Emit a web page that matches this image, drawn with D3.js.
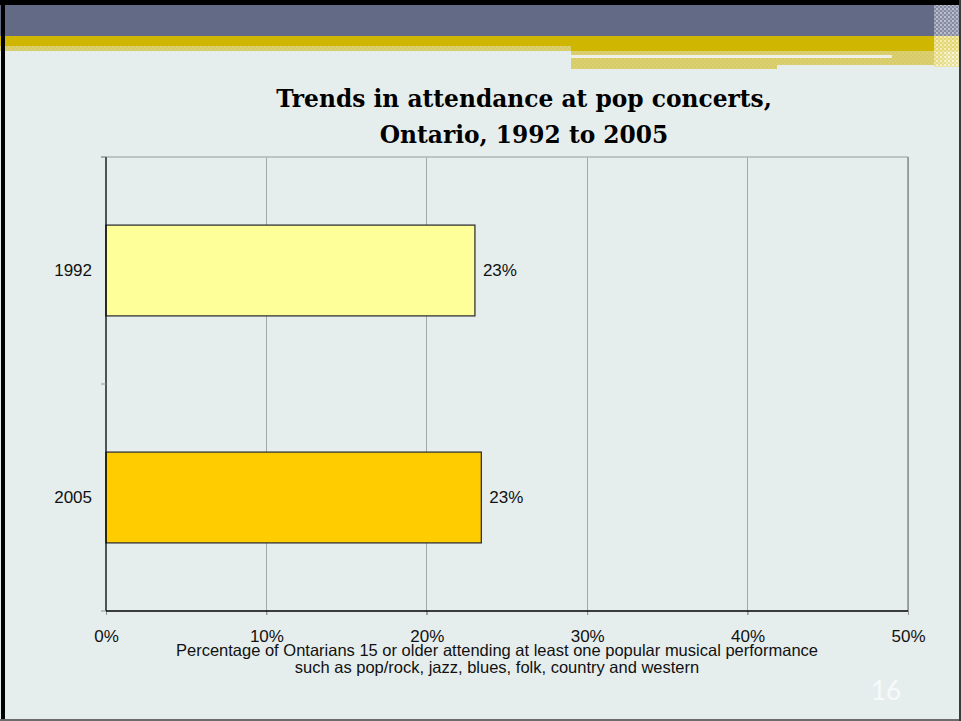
<!DOCTYPE html>
<html>
<head>
<meta charset="utf-8">
<script src="https://cdn.jsdelivr.net/npm/d3@7"></script>
<style>
  html, body { margin: 0; padding: 0; background: #e6eeed; }
  svg { display: block; }
</style>
</head>
<body>
<svg id="slide" width="961" height="721"></svg>
<script>
// Attendance data
const years = ["1992", "2005"];
const shares = [0.230, 0.234];
const barColors = ["#ffff99", "#ffcc00"];
const xTicks = [0, 0.1, 0.2, 0.3, 0.4, 0.5];
const titleLines = ["Trends in attendance at pop concerts,", "Ontario, 1992 to 2005"];
const axisTitleLines = [
  "Percentage of Ontarians 15 or older attending at least one popular musical performance",
  "such as pop/rock, jazz, blues, folk, country and western"
];
const pageNumber = "16";

const svg = d3.select("#slide");
const W = 961, H = 721;
const sans = "Liberation Sans, Arial, sans-serif";

svg.append("rect").attr("x", 0).attr("y", 0).attr("width", W).attr("height", H).attr("fill", "#e6eeed");

// Header band patterns
const defs = svg.append("defs");
function checker(id, base, a, b) {
  const p = defs.append("pattern").attr("id", id).attr("width", 4).attr("height", 4)
    .attr("patternUnits", "userSpaceOnUse");
  p.append("rect").attr("width", 4).attr("height", 4).attr("fill", base);
  p.append("rect").attr("width", 2).attr("height", 2).attr("fill", a);
  p.append("rect").attr("x", 2).attr("y", 2).attr("width", 2).attr("height", 2).attr("fill", b);
}
checker("lightGold", "#dbd073", "#d7cb66", "#d7cb66");
checker("checkGrey", "#9096ac", "#dcdee5", "#c0c3d0");
checker("checkGold", "#e8dc86", "#faf6d8", "#f1e9b0");

// Header bands
svg.append("rect").attr("x", 0).attr("y", 5).attr("width", W).attr("height", 31).attr("fill", "#636a86");
svg.append("rect").attr("x", 0).attr("y", 36).attr("width", W).attr("height", 10).attr("fill", "#cfb701");
svg.append("rect").attr("x", 0).attr("y", 46).attr("width", 571).attr("height", 5).attr("fill", "url(#lightGold)");
svg.append("rect").attr("x", 571).attr("y", 46).attr("width", 390).attr("height", 5).attr("fill", "#cfb701");
svg.append("rect").attr("x", 571).attr("y", 51).attr("width", 374).attr("height", 14).attr("fill", "url(#lightGold)");
svg.append("rect").attr("x", 571).attr("y", 65).attr("width", 206).attr("height", 4).attr("fill", "url(#lightGold)");
svg.append("rect").attr("x", 571).attr("y", 55).attr("width", 321).attr("height", 3).attr("fill", "#eef0e8");
svg.append("rect").attr("x", 934).attr("y", 5).attr("width", 25).attr("height", 31).attr("fill", "url(#checkGrey)").attr("opacity", 0.75);
svg.append("rect").attr("x", 934).attr("y", 36).attr("width", 25).attr("height", 31).attr("fill", "url(#checkGold)").attr("opacity", 0.85);

// Outer frame
svg.append("rect").attr("x", 0).attr("y", 0).attr("width", W).attr("height", 5).attr("fill", "#000");
svg.append("rect").attr("x", 1).attr("y", 0).attr("width", 4).attr("height", H).attr("fill", "#000");
svg.append("rect").attr("x", 0).attr("y", 719).attr("width", W).attr("height", 2).attr("fill", "#6b6b6b");
svg.append("rect").attr("x", 959).attr("y", 0).attr("width", 2).attr("height", H).attr("fill", "#3a3a3a");

// Plot geometry
const plot = { left: 106, right: 908, top: 157, bottom: 611 };
const x = d3.scaleLinear().domain([0, 0.5]).range([plot.left, plot.right]);
const y = d3.scaleBand().domain(years).range([plot.top, plot.bottom]).paddingInner(0.6).paddingOuter(0.3);

const g = svg.append("g");

// Vertical gridlines
g.append("g").selectAll("line").data(xTicks.slice(1)).join("line")
  .attr("x1", d => x(d)).attr("x2", d => x(d))
  .attr("y1", plot.top).attr("y2", plot.bottom + 4)
  .attr("stroke", "#a3a8a8").attr("stroke-width", 1).attr("shape-rendering", "crispEdges");

// Plot frame top and right
g.append("line").attr("x1", plot.left - 5).attr("x2", plot.right).attr("y1", plot.top).attr("y2", plot.top)
  .attr("stroke", "#b0b4b4").attr("stroke-width", 1.5);
g.append("line").attr("x1", plot.right).attr("x2", plot.right).attr("y1", plot.top).attr("y2", plot.bottom)
  .attr("stroke", "#8c9090").attr("stroke-width", 1.5);

// Bars
g.append("g").selectAll("rect").data(years).join("rect")
  .attr("x", x(0))
  .attr("y", d => y(d))
  .attr("width", (d, i) => x(shares[i]) - x(0))
  .attr("height", y.bandwidth())
  .attr("fill", (d, i) => barColors[i])
  .attr("stroke", "#333")
  .attr("stroke-width", 1.3);

// Value labels
const pct = d3.format(".0%");
g.append("g").selectAll("text").data(years).join("text")
  .attr("x", (d, i) => x(shares[i]) + 8)
  .attr("y", d => y(d) + y.bandwidth() / 2)
  .attr("dy", "0.35em")
  .attr("font-family", sans)
  .attr("font-size", 17)
  .attr("fill", "#111")
  .text((d, i) => pct(shares[i]));

// X axis
const xAxis = d3.axisBottom(x).tickValues(xTicks).tickFormat(d3.format(".0%")).tickSize(4).tickPadding(15);
const xg = svg.append("g").attr("transform", `translate(0,${plot.bottom})`).call(xAxis);
xg.select(".domain").remove();
xg.selectAll(".tick line").attr("stroke", "#8f9494");
xg.selectAll(".tick text").attr("font-family", sans).attr("font-size", 17).attr("fill", "#111");
svg.append("line").attr("x1", plot.left).attr("x2", plot.right).attr("y1", plot.bottom).attr("y2", plot.bottom)
  .attr("stroke", "#000").attr("stroke-width", 1.3);

// Y axis: line, ticks at band boundaries, category labels
svg.append("line").attr("x1", plot.left).attr("x2", plot.left).attr("y1", plot.top).attr("y2", plot.bottom)
  .attr("stroke", "#000").attr("stroke-width", 1.3);
const bounds = [plot.top].concat(years.map(d => y(d) + y.bandwidth() / 2 + y.step() / 2));
svg.append("g").selectAll("line").data(bounds).join("line")
  .attr("x1", plot.left - 5).attr("x2", plot.left)
  .attr("y1", d => d).attr("y2", d => d)
  .attr("stroke", "#8f9494").attr("stroke-width", 1);
svg.append("g").selectAll("text").data(years).join("text")
  .attr("x", plot.left - 14)
  .attr("y", d => y(d) + y.bandwidth() / 2)
  .attr("dy", "0.35em")
  .attr("text-anchor", "end")
  .attr("font-family", sans)
  .attr("font-size", 17)
  .attr("fill", "#111")
  .text(d => d);

// Axis title
svg.append("g").selectAll("text").data(axisTitleLines).join("text")
  .attr("x", 497)
  .attr("y", (d, i) => 656 + i * 17)
  .attr("text-anchor", "middle")
  .attr("font-family", sans)
  .attr("font-size", 16.5)
  .attr("fill", "#111")
  .text(d => d);

// Chart title, sized so the first line spans ~496px
const title = svg.append("g").selectAll("text").data(titleLines).join("text")
  .attr("x", 524)
  .attr("y", (d, i) => 107 + i * 36)
  .attr("text-anchor", "middle")
  .attr("font-family", "'DejaVu Serif', 'Liberation Serif', serif")
  .attr("font-weight", "bold")
  .attr("font-size", 24)
  .attr("fill", "#000")
  .text(d => d);
const firstWidth = title.nodes()[0].getComputedTextLength();
const fitSize = Math.min(26, 24 * 496 / firstWidth);
title.attr("font-size", fitSize);

// Slide number
svg.append("text")
  .attr("x", 886).attr("y", 700)
  .attr("text-anchor", "middle")
  .attr("font-family", "Lato, 'Open Sans', sans-serif")
  .attr("font-size", 26)
  .attr("fill", "#f7fafa")
  .text(pageNumber);
</script>
</body>
</html>
